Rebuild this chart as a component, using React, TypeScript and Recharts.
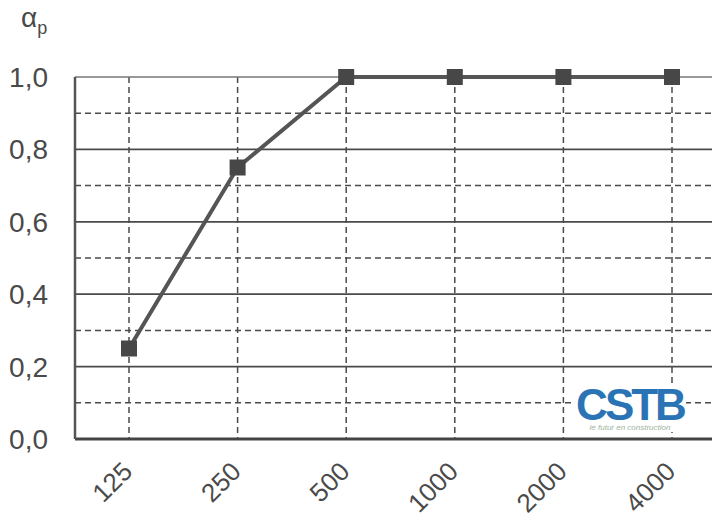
import React from "react";
import {
  LineChart,
  Line,
  XAxis,
  YAxis,
  CartesianGrid,
  ReferenceLine,
} from "recharts";

const frequencies = ["125", "250", "500", "1000", "2000", "4000"];
const alphaP = [0.25, 0.75, 1.0, 1.0, 1.0, 1.0];
const yTicks = [0, 0.2, 0.4, 0.6, 0.8, 1.0];
const solidLevels = [0.2, 0.4, 0.6, 0.8];
const dashedLevels = [0.1, 0.3, 0.5, 0.7, 0.9];

const data = frequencies.map((f, i) => ({ freq: f, alpha: alphaP[i] }));

const FONT = '"Liberation Sans", Arial, sans-serif';
const INK = "#4a4a4a";

// rotated category labels under the axis
function FreqTick(props: any) {
  const { x, y, payload } = props;
  const ax = x + 5;
  const ay = y + 34;
  return (
    <text
      x={ax}
      y={ay}
      transform={`rotate(-45, ${ax}, ${ay})`}
      textAnchor="end"
      fill={INK}
      fontSize={26}
      fontFamily={FONT}
    >
      {payload.value}
    </text>
  );
}

function Square(props: any) {
  const { cx, cy } = props;
  if (cx == null || cy == null) return null;
  return <rect x={cx - 8} y={cy - 8} width={16} height={16} fill="#474747" />;
}

export default function App() {
  return (
    <div style={{ position: "relative", width: 720, height: 521, margin: -8, overflow: "hidden", background: "#fff" }}>
      <LineChart
        width={726}
        height={521}
        data={data}
        margin={{ top: 77, right: 0, bottom: 0, left: 0 }}
      >
        <CartesianGrid horizontal={false} stroke={INK} strokeWidth={1.5} strokeDasharray="6 4" />
        {dashedLevels.map((v) => (
          <ReferenceLine key={`d${v}`} y={v} stroke={INK} strokeWidth={1.5} strokeDasharray="6 4" />
        ))}
        {solidLevels.map((v) => (
          <ReferenceLine key={`s${v}`} y={v} stroke={INK} strokeWidth={1.8} />
        ))}
        <ReferenceLine y={1} stroke="#777" strokeWidth={1.5} />
        <XAxis
          dataKey="freq"
          height={82}
          padding={{ left: 54, right: 54 }}
          tick={<FreqTick />}
          tickLine={false}
          tickSize={0}
          tickMargin={0}
          axisLine={{ stroke: "#444", strokeWidth: 3 }}
          interval={0}
        />
        <YAxis
          width={75}
          domain={[0, 1]}
          ticks={yTicks}
          tickFormatter={(v: number) => v.toFixed(1).replace(".", ",")}
          tick={{ fill: INK, fontSize: 28, fontFamily: FONT }}
          tickLine={false}
          tickSize={0}
          tickMargin={27}
          axisLine={{ stroke: "#555", strokeWidth: 2.5 }}
          interval={0}
        />
        <Line
          type="linear"
          dataKey="alpha"
          stroke="#555"
          strokeWidth={4}
          dot={<Square />}
          activeDot={false}
          isAnimationActive={false}
        />
      </LineChart>
      <div
        style={{
          position: "absolute",
          left: 21,
          top: 2,
          fontFamily: FONT,
          fontSize: 28,
          color: INK,
        }}
      >
        α<sub style={{ fontSize: 18 }}>p</sub>
      </div>
      <div
        style={{
          position: "absolute",
          left: 574,
          top: 383,
          width: 112,
          background: "#fff",
          textAlign: "center",
          lineHeight: 1,
        }}
      >
        <div style={{ fontFamily: FONT, fontWeight: 700, fontSize: 44, color: "#2a74b5", letterSpacing: -3 }}>CSTB</div>
        <div style={{ fontFamily: FONT, fontSize: 8, color: "#9fb3a0", fontStyle: "italic", marginTop: -3 }}>le futur en construction</div>
      </div>
    </div>
  );
}
